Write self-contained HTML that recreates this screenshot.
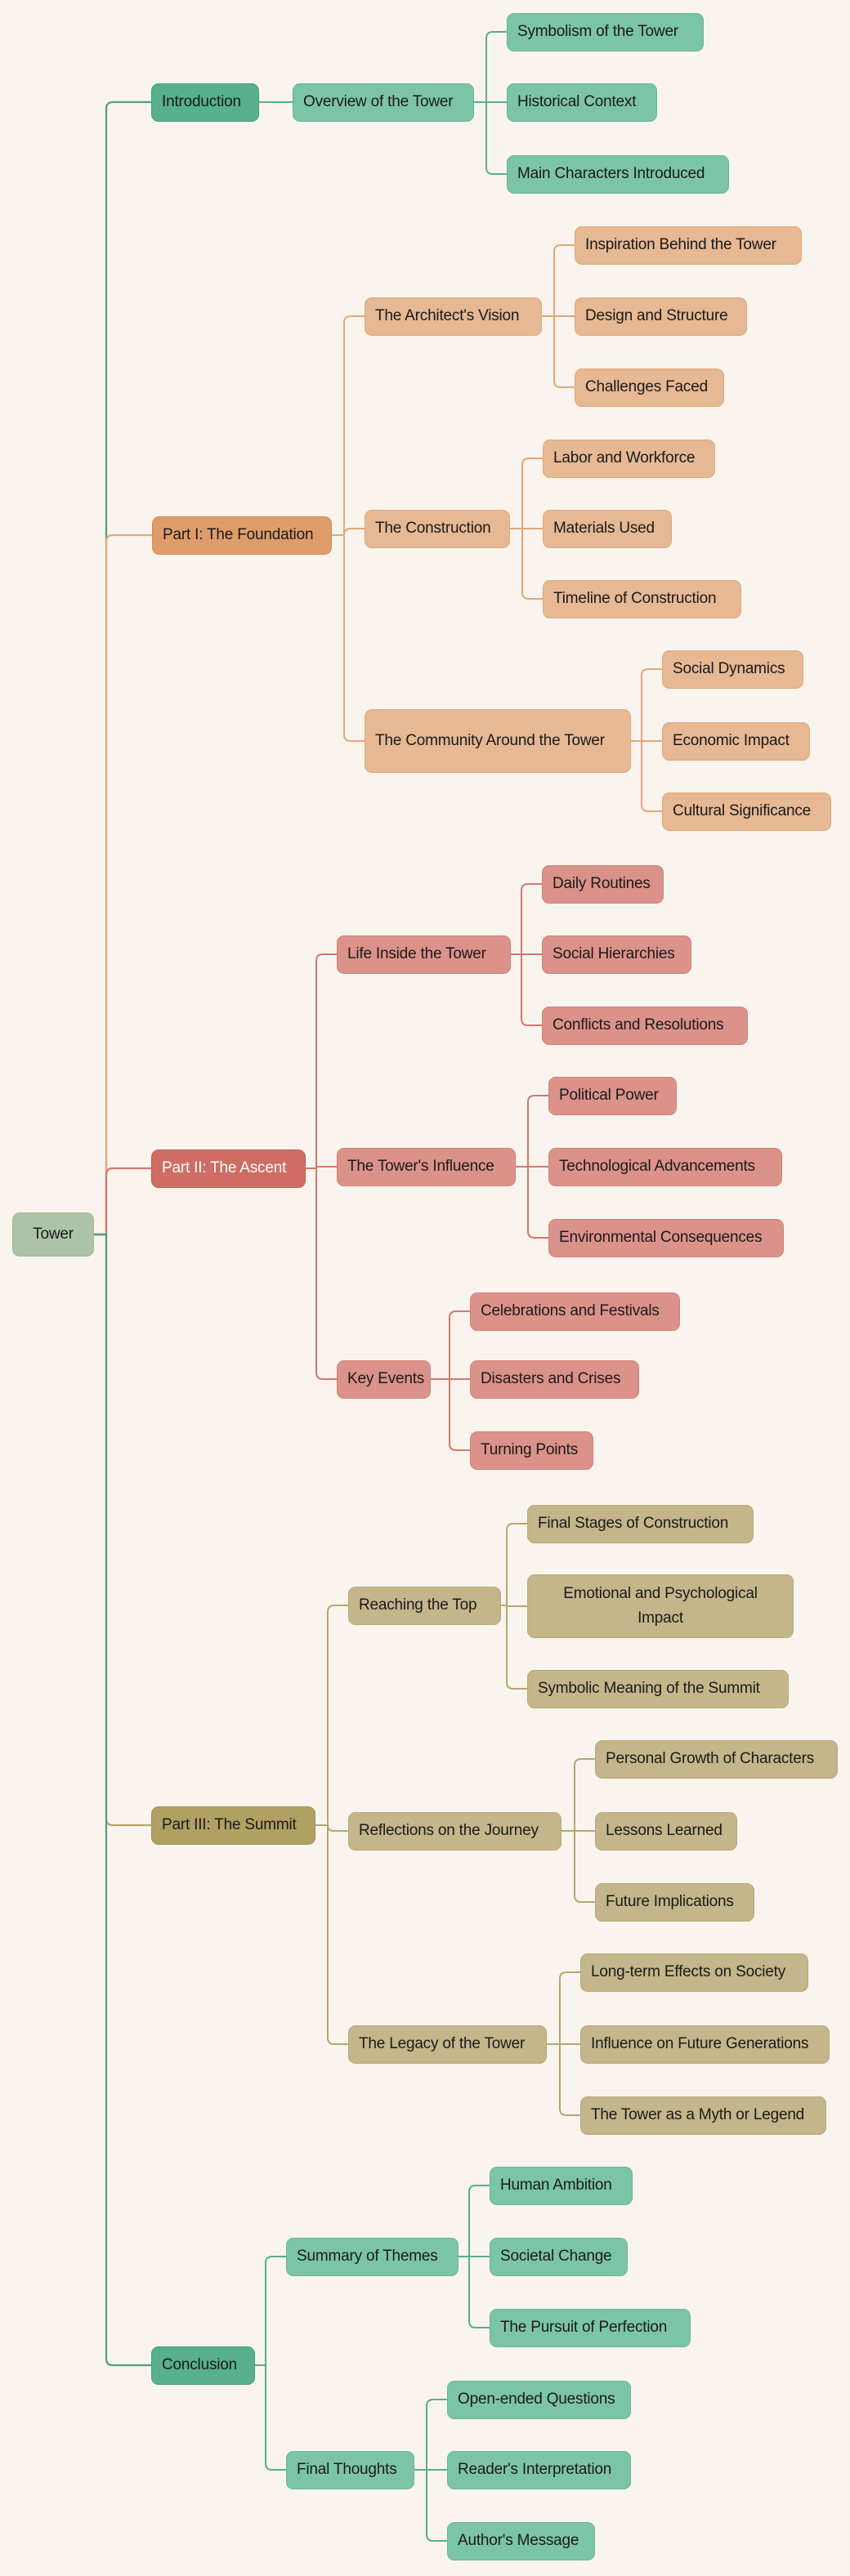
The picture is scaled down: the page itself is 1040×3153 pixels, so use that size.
<!DOCTYPE html>
<html><head><meta charset="utf-8">
<style>
html,body{margin:0;padding:0;background:#f9f5ee;}
#c{position:relative;width:1040px;height:3153px;overflow:hidden;background:#f9f5ee;font-family:"Liberation Sans",sans-serif;}
svg{position:absolute;left:0;top:0;}
.n{position:absolute;box-sizing:border-box;border-radius:9px;display:flex;align-items:center;justify-content:flex-start;padding-left:12px;text-align:left;font-size:19px;color:#1a1a1a;line-height:30px;white-space:nowrap;letter-spacing:-0.2px;}
.n.ctr{justify-content:center;text-align:center;padding-left:0;}
</style></head><body>
<div id="c"><svg id="s" width="1040" height="3153"></svg></div>
<script>
const C={
 g:{l1:"#57b08e",b1:"#4a9c7c",l2:"#7cc4a8",b2:"#6ab596",line:"#5aae8a",t1:"#1a1a1a"},
 o:{l1:"#df9c6b",b1:"#d48a55",l2:"#e6b893",b2:"#e0a878",line:"#e3a77a",t1:"#1a1a1a"},
 r:{l1:"#cf6d65",b1:"#c45a52",l2:"#db928a",b2:"#d47f77",line:"#d4776f",t1:"#ffffff"},
 y:{l1:"#b0a064",b1:"#a29256",l2:"#c4b68a",b2:"#b8a878",line:"#b9a56c",t1:"#1a1a1a"}
};
const tree=[
 ["g",["Introduction",185,317,125],[
   [["Overview of the Tower",358,580,125],[["Symbolism of the Tower",620,861,39],["Historical Context",620,804,125],["Main Characters Introduced",620,892,213]]]
 ]],
 ["o",["Part I: The Foundation",186,406,655],[
   [["The Architect's Vision",446,663,387],[["Inspiration Behind the Tower",703,981,300],["Design and Structure",703,914,387],["Challenges Faced",703,886,474]]],
   [["The Construction",446,624,647],[["Labor and Workforce",664,875,561],["Materials Used",664,822,647],["Timeline of Construction",664,907,733]]],
   [["The Community Around the Tower",446,772,907,78],[["Social Dynamics",810,983,819],["Economic Impact",810,991,907],["Cultural Significance",810,1017,993]]]
 ]],
 ["r",["Part II: The Ascent",185,374,1430],[
   [["Life Inside the Tower",412,625,1168],[["Daily Routines",663,812,1082],["Social Hierarchies",663,846,1168],["Conflicts and Resolutions",663,915,1255]]],
   [["The Tower's Influence",412,631,1428],[["Political Power",671,828,1341],["Technological Advancements",671,957,1428],["Environmental Consequences",671,959,1515]]],
   [["Key Events",412,527,1688],[["Celebrations and Festivals",575,832,1605],["Disasters and Crises",575,782,1688],["Turning Points",575,726,1775]]]
 ]],
 ["y",["Part III: The Summit",185,386,2234],[
   [["Reaching the Top",426,613,1965],[["Final Stages of Construction",645,922,1865],["Emotional and Psychological<br>Impact",645,971,1966,78,1],["Symbolic Meaning of the Summit",645,965,2067]]],
   [["Reflections on the Journey",426,687,2241],[["Personal Growth of Characters",728,1025,2153],["Lessons Learned",728,902,2241],["Future Implications",728,923,2328]]],
   [["The Legacy of the Tower",426,669,2502],[["Long-term Effects on Society",710,989,2414],["Influence on Future Generations",710,1015,2502],["The Tower as a Myth or Legend",710,1011,2589]]]
 ]],
 ["g",["Conclusion",185,312,2895],[
   [["Summary of Themes",350,561,2762],[["Human Ambition",599,774,2675],["Societal Change",599,768,2762],["The Pursuit of Perfection",599,845,2849]]],
   [["Final Thoughts",350,507,3023],[["Open-ended Questions",547,772,2937],["Reader's Interpretation",547,772,3023],["Author's Message",547,728,3110]]]
 ]]
];
const c=document.getElementById('c'),s=document.getElementById('s');
function box(d,bg,bd,col){const h=d[4]||47;const e=document.createElement('div');e.className='n'+(d[5]?' ctr':'');
 e.style.cssText=`left:${d[1]}px;top:${d[3]-h/2}px;width:${d[2]-d[1]}px;height:${h}px;background:${bg};border:1.5px solid ${bd};color:${col};`;
 e.innerHTML=d[0];c.appendChild(e);}
function link(px,py,vx,cx,cy,col,w){let r=8,d;
 if(Math.abs(cy-py)<1){d=`M${px} ${py}H${cx}`;}
 else{const sg=cy>py?1:-1;r=Math.min(r,Math.abs(cy-py));
 d=`M${px} ${py}H${vx}V${cy-sg*r}Q${vx} ${cy} ${vx+r} ${cy}H${cx}`;}
 const p=document.createElementNS('http://www.w3.org/2000/svg','path');p.setAttribute('d',d);p.setAttribute('fill','none');p.setAttribute('stroke',col);p.setAttribute('stroke-width',w||2);s.appendChild(p);}
tree.forEach(([k,l1,kids])=>{const P=C[k];
 link(115,1511,130,l1[1],l1[3],k=="g"?"#4f9e7c":P.line,2.2);
 box(l1,P.l1,P.b1,P.t1);
 kids.forEach(([l2,l3s])=>{link(l1[2],l1[3],l2[1]-25,l2[1],l2[3],P.line,2);box(l2,P.l2,P.b2,"#1a1a1a");
  l3s.forEach(l3=>{link(l2[2],l2[3],l3[1]-25,l3[1],l3[3],P.line,2);box(l3,P.l2,P.b2,"#1a1a1a");});});
});
box(["Tower",15,115,1511,54,1],"#adc3a8","#a2b99c","#1a1a1a");
</script>
</body></html>
